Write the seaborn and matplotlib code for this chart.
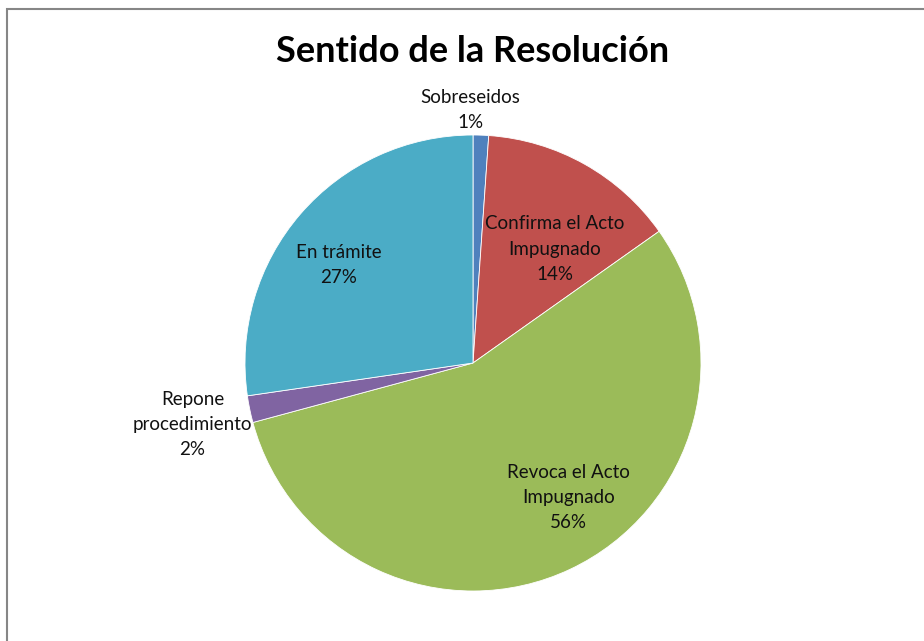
import matplotlib
matplotlib.use("Agg")
import matplotlib.pyplot as plt
import matplotlib.patches as mpatches
import seaborn as sns

# Data (share of resolutions)
categories = ["Sobreseidos", "Confirma el Acto\nImpugnado", "Revoca el Acto\nImpugnado",
              "Repone\nprocedimiento", "En trámite"]
shares = [1.1, 14.1, 55.6, 1.9, 27.3]
pct_labels = ["1%", "14%", "56%", "2%", "27%"]

# Excel 2007 default palette
COLORS = ["#4F81BD", "#C0504D", "#9BBB59", "#8064A2", "#4BACC6"]
# label anchors in pie units (radius = 1)
LABEL_POS = [(-0.01, 1.11), (0.36, 0.50), (0.42, -0.59), (-1.23, -0.27), (-0.59, 0.43)]

sns.set_theme(style="white")
plt.rcParams["font.family"] = ["Lato", "DejaVu Sans"]

W, H = 924, 641
fig = plt.figure(figsize=(W / 100, H / 100), dpi=100)
fig.patch.set_facecolor("white")

# chart frame (Excel chart area border)
fig.patches.append(mpatches.Rectangle((7.5 / W, -0.5), 2.0, 1.5 - 8.5 / H, transform=fig.transFigure,
                                      fill=False, edgecolor="#868686", linewidth=1.5))

cx, cy, r = 473, 363, 228
ax = fig.add_axes([(cx - r) / W, (H - cy - r) / H, 2 * r / W, 2 * r / H])
ax.pie(shares, colors=COLORS, startangle=90, counterclock=False, radius=1,
       wedgeprops={"edgecolor": "white", "linewidth": 0.6})
ax.set_xlim(-1, 1)
ax.set_ylim(-1, 1)
ax.set_aspect("equal")
ax.axis("off")

for name, pct, (x, y) in zip(categories, pct_labels, LABEL_POS):
    ax.text(x, y, f"{name}\n{pct}", ha="center", va="center", fontsize=13.5,
            color="#111111", linespacing=1.6, clip_on=False)

fig.text(473 / W, 1 - 52 / H, "Sentido de la Resolución", ha="center", va="center",
         fontsize=26, fontweight="bold", color="black")

fig.savefig("out.png", dpi=100, facecolor="white")
plt.close(fig)
